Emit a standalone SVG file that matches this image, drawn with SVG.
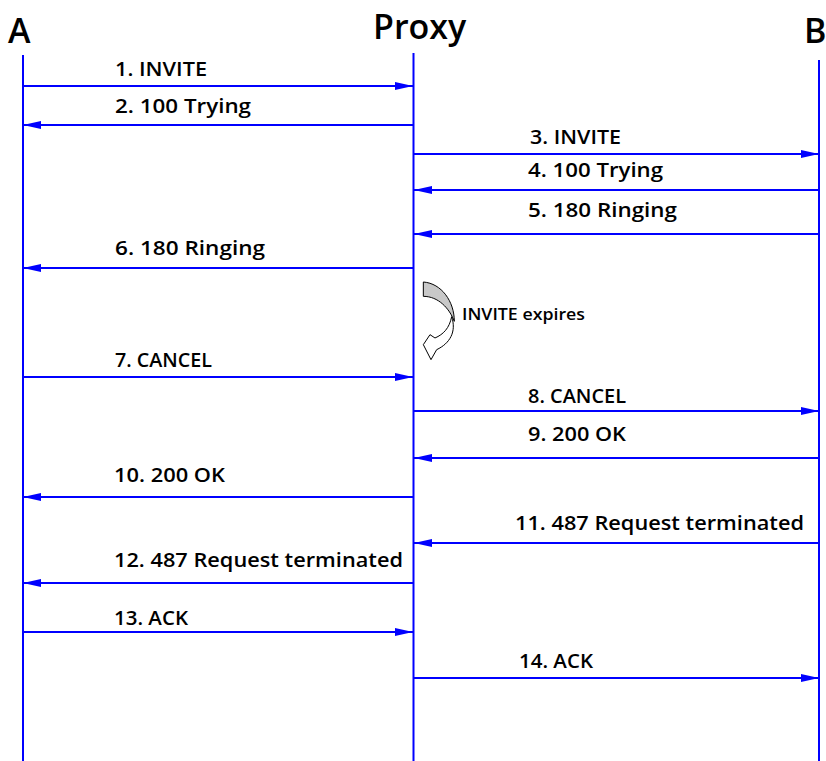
<svg xmlns="http://www.w3.org/2000/svg" width="826" height="761" viewBox="0 0 826 761">
<defs>
<style>
.life{stroke:#0000FF;stroke-width:2;fill:none}
.msg{stroke:#0000FF;stroke-width:2;fill:none;marker-end:url(#ah)}
.lbl{font-family:"Open Sans","Liberation Sans",sans-serif;font-size:20px;font-weight:600;fill:#000}
.title{font-family:"Open Sans","Liberation Sans",sans-serif;font-size:34px;font-weight:600;fill:#000}
.note{font-family:"Open Sans","Liberation Sans",sans-serif;font-size:17px;font-weight:600;fill:#000}
</style>
<marker id="ah" markerUnits="userSpaceOnUse" markerWidth="20" markerHeight="10" refX="18" refY="4" orient="auto">
<path d="M0,0 L18,4 L0,8 Z" fill="#0000FF"/>
</marker>
</defs>
<rect width="826" height="761" fill="#fff"/>
<g id="A">
<text class="title" x="8" y="43">A</text>
<line class="life" x1="23" y1="55" x2="23" y2="761"/>
</g>
<g id="Proxy">
<text class="title" x="373" y="39">Proxy</text>
<line class="life" x1="413.5" y1="53" x2="413.5" y2="761"/>
</g>
<g id="B">
<text class="title" x="804" y="43">B</text>
<line class="life" x1="819" y1="60" x2="819" y2="761"/>
</g>
<g id="connectors">
<line class="msg" x1="23" y1="86" x2="413" y2="86"/>
<line class="msg" x1="413" y1="125" x2="23" y2="125"/>
<line class="msg" x1="414" y1="154" x2="819" y2="154"/>
<line class="msg" x1="819" y1="190" x2="414" y2="190"/>
<line class="msg" x1="819" y1="234" x2="414" y2="234"/>
<line class="msg" x1="413" y1="268" x2="23" y2="268"/>
<line class="msg" x1="23" y1="377" x2="413" y2="377"/>
<line class="msg" x1="414" y1="411" x2="819" y2="411"/>
<line class="msg" x1="819" y1="458" x2="414" y2="458"/>
<line class="msg" x1="413" y1="497" x2="23" y2="497"/>
<line class="msg" x1="819" y1="543" x2="414" y2="543"/>
<line class="msg" x1="413" y1="583" x2="23" y2="583"/>
<line class="msg" x1="23" y1="632" x2="413" y2="632"/>
<line class="msg" x1="414" y1="678" x2="819" y2="678"/>
</g>
<g id="labels">
<text class="lbl" x="115" y="76" textLength="92" lengthAdjust="spacingAndGlyphs">1. INVITE</text>
<text class="lbl" x="115" y="113" textLength="136" lengthAdjust="spacingAndGlyphs">2. 100 Trying</text>
<text class="lbl" x="530" y="144" textLength="91" lengthAdjust="spacingAndGlyphs">3. INVITE</text>
<text class="lbl" x="528" y="177" textLength="135" lengthAdjust="spacingAndGlyphs">4. 100 Trying</text>
<text class="lbl" x="528" y="217" textLength="149" lengthAdjust="spacingAndGlyphs">5. 180 Ringing</text>
<text class="lbl" x="115" y="255" textLength="150" lengthAdjust="spacingAndGlyphs">6. 180 Ringing</text>
<text class="lbl" x="115" y="367" textLength="97" lengthAdjust="spacingAndGlyphs">7. CANCEL</text>
<text class="lbl" x="528" y="403" textLength="98" lengthAdjust="spacingAndGlyphs">8. CANCEL</text>
<text class="lbl" x="528" y="441" textLength="98" lengthAdjust="spacingAndGlyphs">9. 200 OK</text>
<text class="lbl" x="114" y="482" textLength="111" lengthAdjust="spacingAndGlyphs">10. 200 OK</text>
<text class="lbl" x="515" y="530" textLength="289" lengthAdjust="spacingAndGlyphs">11. 487 Request terminated</text>
<text class="lbl" x="114" y="567" textLength="289" lengthAdjust="spacingAndGlyphs">12. 487 Request terminated</text>
<text class="lbl" x="114" y="625" textLength="74" lengthAdjust="spacingAndGlyphs">13. ACK</text>
<text class="lbl" x="519" y="668" textLength="74" lengthAdjust="spacingAndGlyphs">14. ACK</text>
</g>
<g id="expires">
<g transform="translate(410,275) scale(0.3333)" stroke="#000" stroke-width="3" stroke-linejoin="round">
<path d="M40,21 C95,25 133,80 133,139 C118,100 85,64 40,64 Z" fill="#C8C8C8"/>
<path d="M125,125 C140,170 120,205 80,224 L63,254 L40,209 L60,179 L75,189 C100,178 118,160 125,125 Z" fill="#fff"/>
</g>
<text class="note" x="462" y="320" textLength="123" lengthAdjust="spacingAndGlyphs">INVITE expires</text>
</g>
</svg>
